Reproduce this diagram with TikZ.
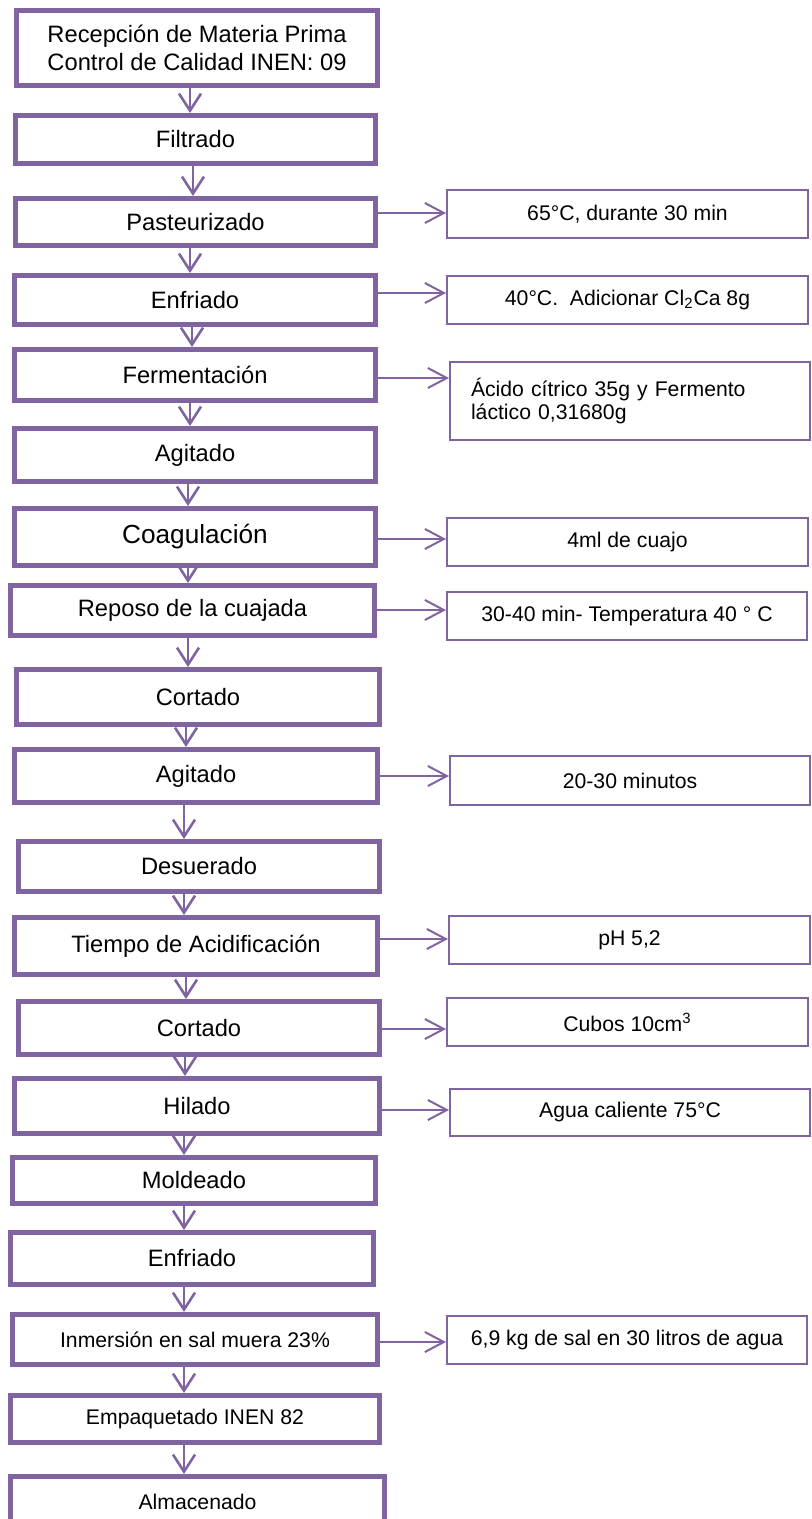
\documentclass[tikz,border=0pt]{standalone}
\usepackage{fontspec}
\setmainfont{Liberation Sans}
\usetikzlibrary{arrows.meta}
\definecolor{boxpurple}{HTML}{8064A2}

% process step: style, name, left, top, right, bottom (px, outer edges), text
\newcommand\leftbox[7]{%
  \node[#1, minimum width={0.5*(#5-#3)-2.5}, minimum height={0.5*(#6-#4)-2.5}]
    (#2) at ({(#3+#5)/2},{(#4+#6)/2}) {#7};}
% side note: style, name, left, top, right, bottom (px, outer edges), text
\newcommand\rightbox[7]{%
  \node[#1, minimum width={0.5*(#5-#3)-1}, minimum height={0.5*(#6-#4)-1}]
    (#2) at ({(#3+#5)/2},{(#4+#6)/2}) {#7};}

\tikzset{
  stepbox/.style={draw=boxpurple, line width=2.5pt, fill=white, inner sep=0pt,
    align=center, font=\fontsize{11.85}{14}\selectfont},
  smallstep/.style={stepbox, font=\fontsize{10.6}{12.5}\selectfont},
  bigstep/.style={stepbox, font=\fontsize{13.1}{15}\selectfont},
  notebox/.style={draw=boxpurple, line width=1pt, fill=white, inner sep=0pt,
    align=center, font=\fontsize{10.6}{12.5}\selectfont},
  flow/.style={draw=boxpurple, line width=1.3pt,
    -{Straight Barb[length=8.5pt, width=11pt]}},
  side/.style={draw=boxpurple, line width=1pt,
    -{Straight Barb[length=9.5pt, width=10pt]}},
}

\begin{document}
\begin{tikzpicture}[x=0.5pt, y=-0.5pt]
\useasboundingbox (0,0) rectangle (812,1519);
\fill[white] (0,0) rectangle (812,1519);

% main process column
\leftbox{stepbox}{r1}{14}{8}{380}{88}{Recepción de Materia Prima\\Control de Calidad INEN: 09}
\leftbox{stepbox}{r2}{13}{113}{378}{166}{Filtrado}
\leftbox{stepbox}{r3}{13}{196}{378}{248}{Pasteurizado}
\leftbox{stepbox}{r4}{12}{273}{378}{327}{Enfriado}
\leftbox{stepbox}{r5}{12}{347}{378}{403}{Fermentación}
\leftbox{stepbox}{r6}{12}{426}{378}{484}{Agitado}
\leftbox{bigstep}{r7}{12}{506}{378}{568}{Coagulación}
\leftbox{stepbox}{r8}{8}{583}{377}{638}{Reposo de la cuajada}
\leftbox{stepbox}{r9}{14}{667}{382}{727}{Cortado}
\leftbox{stepbox}{r10}{12}{747}{380}{805}{Agitado}
\leftbox{stepbox}{r11}{16}{839}{382}{894}{Desuerado}
\leftbox{stepbox}{r12}{12}{915}{380}{977}{Tiempo de Acidificación}
\leftbox{stepbox}{r13}{16}{999}{382}{1057}{Cortado}
\leftbox{stepbox}{r14}{12}{1076}{382}{1136}{Hilado}
\leftbox{stepbox}{r15}{10}{1155}{378}{1206}{Moldeado}
\leftbox{stepbox}{r16}{8}{1230}{376}{1287}{Enfriado}
\leftbox{smallstep}{r17}{10}{1312}{380}{1367}{Inmersión en sal muera 23\%}
\leftbox{smallstep}{r18}{8}{1393}{382}{1445}{Empaquetado INEN 82}
\leftbox{smallstep}{r19}{8}{1474}{387}{1530}{Almacenado}

% conditions column
\rightbox{notebox}{s3}{446}{189}{809}{239}{65°C, durante 30 min}
\rightbox{notebox}{s4}{446}{275}{809}{325}{40°C.\ \ Adicionar Cl\textsubscript{2}Ca 8g}
\rightbox{notebox, align=left, inner xsep=10.5pt, text width=159pt,
  font=\fontsize{10.6}{11.5}\selectfont}{s5}{449}{361}{811}{441}{Ácido cítrico 35g y Fermento\\láctico 0,31680g}
\rightbox{notebox}{s7}{446}{517}{809}{567}{4ml de cuajo}
\rightbox{notebox}{s8}{446}{591}{808}{641}{30-40 min- Temperatura 40 ° C}
\rightbox{notebox}{s10}{449}{755}{811}{806}{20-30 minutos}
\rightbox{notebox}{s12}{448}{915}{811}{965}{pH 5,2}
\rightbox{notebox}{s13}{446}{997}{809}{1047}{Cubos 10cm\textsuperscript{3}}
\rightbox{notebox}{s14}{449}{1088}{811}{1137}{Agua caliente 75°C}
\rightbox{notebox}{s17}{446}{1315}{808}{1365}{6,9 kg de sal en 30 litros de agua}

% downward flow
\draw[flow] (190,0 |- r1.south) -- (190,0 |- r2.north);
\draw[flow] (193,0 |- r2.south) -- (193,0 |- r3.north);
\draw[flow] (190,0 |- r3.south) -- (190,0 |- r4.north);
\draw[flow] (192,0 |- r4.south) -- (192,0 |- r5.north);
\draw[flow] (190,0 |- r5.south) -- (190,0 |- r6.north);
\draw[flow] (188,0 |- r6.south) -- (188,0 |- r7.north);
\draw[flow] (188,0 |- r7.south) -- (188,0 |- r8.north);
\draw[flow] (188,0 |- r8.south) -- (188,0 |- r9.north);
\draw[flow] (186,0 |- r9.south) -- (186,0 |- r10.north);
\draw[flow] (184,0 |- r10.south) -- (184,0 |- r11.north);
\draw[flow] (184,0 |- r11.south) -- (184,0 |- r12.north);
\draw[flow] (186,0 |- r12.south) -- (186,0 |- r13.north);
\draw[flow] (185,0 |- r13.south) -- (185,0 |- r14.north);
\draw[flow] (184,0 |- r14.south) -- (184,0 |- r15.north);
\draw[flow] (184,0 |- r15.south) -- (184,0 |- r16.north);
\draw[flow] (184,0 |- r16.south) -- (184,0 |- r17.north);
\draw[flow] (184,0 |- r17.south) -- (184,0 |- r18.north);
\draw[flow] (184,0 |- r18.south) -- (184,0 |- r19.north);

% side arrows to the conditions
\draw[side] (r3.east |- 0,213) -- (s3.west |- 0,213);
\draw[side] (r4.east |- 0,293) -- (s4.west |- 0,293);
\draw[side] (r5.east |- 0,378) -- (s5.west |- 0,378);
\draw[side] (r7.east |- 0,539) -- (s7.west |- 0,539);
\draw[side] (r8.east |- 0,610) -- (s8.west |- 0,610);
\draw[side] (r10.east |- 0,776) -- (s10.west |- 0,776);
\draw[side] (r12.east |- 0,939) -- (s12.west |- 0,939);
\draw[side] (r13.east |- 0,1029) -- (s13.west |- 0,1029);
\draw[side] (r14.east |- 0,1110) -- (s14.west |- 0,1110);
\draw[side] (r17.east |- 0,1342) -- (s17.west |- 0,1342);
\end{tikzpicture}
\end{document}
